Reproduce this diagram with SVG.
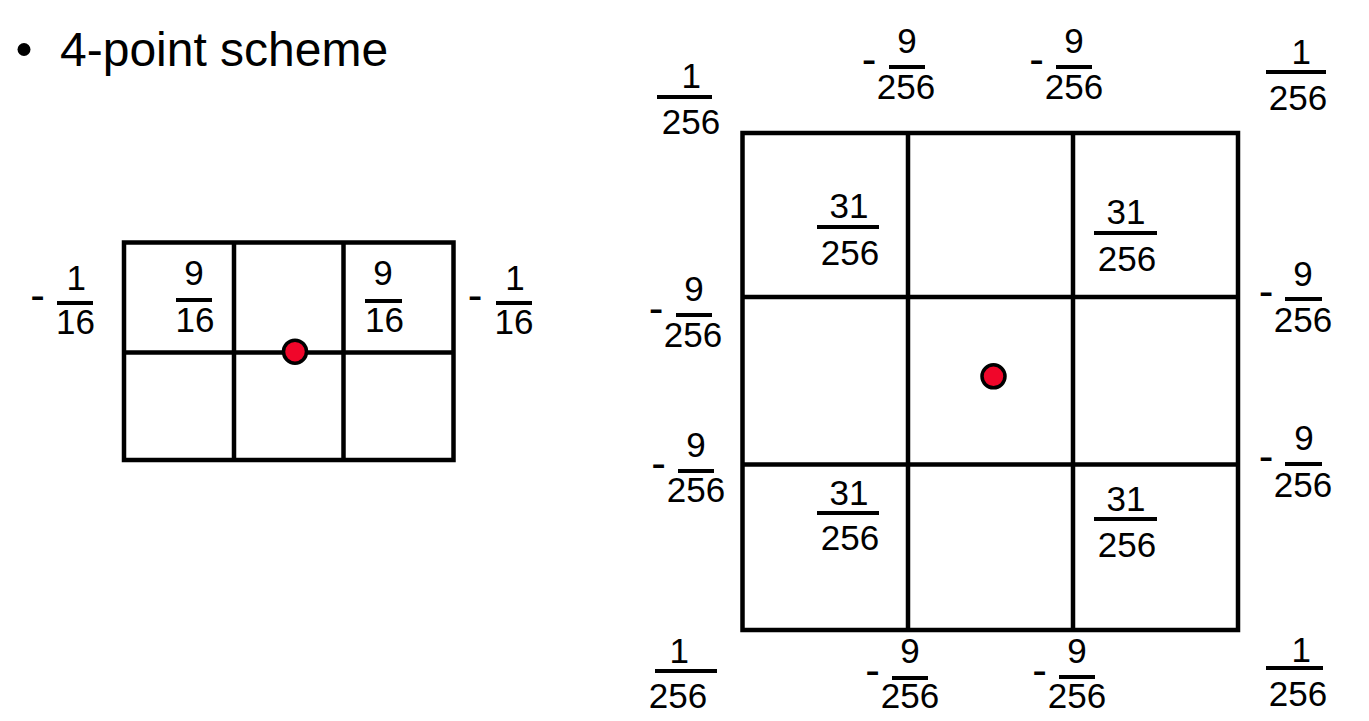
<svg xmlns="http://www.w3.org/2000/svg" width="1369" height="721" viewBox="0 0 1369 721">
<style>
  text { font-family: "Liberation Sans", Arial, sans-serif; fill: #000; }
  .t { font-size: 48px; }
  .n { font-size: 35px; text-anchor: middle; }
  .m { font-size: 44px; text-anchor: middle; }
  .bar { fill: #000; }
  .grid { fill: none; stroke: #000; stroke-width: 4.5; }
  .dot { fill: #f0062a; stroke: #000; stroke-width: 3.5; }
</style>
<rect width="1369" height="721" fill="#fff"/>

<g id="title">
  <circle cx="24" cy="49.5" r="6.5" fill="#000"/>
  <text class="t" x="60" y="66">4-point scheme</text>
</g>

<!-- Left 2x3 grid -->
<g id="grid-left">
  <rect class="grid" x="124" y="242.5" width="329.5" height="217.5"/>
  <line class="grid" x1="234" y1="242.5" x2="234" y2="460"/>
  <line class="grid" x1="343.5" y1="242.5" x2="343.5" y2="460"/>
  <line class="grid" x1="124" y1="352.5" x2="453.5" y2="352.5"/>
  <circle class="dot" cx="295" cy="351.7" r="11.5"/>
</g>

<g id="l-left">
  <text class="m" x="37.5" y="310">-</text>
  <text class="n" x="76.3" y="290">1</text>
  <rect class="bar" x="57" y="301" width="36" height="4"/>
  <text class="n" x="75.5" y="334">16</text>
</g>
<g id="l-c1">
  <text class="n" x="194" y="285">9</text>
  <rect class="bar" x="176" y="298" width="36" height="4"/>
  <text class="n" x="195" y="332">16</text>
</g>
<g id="l-c3">
  <text class="n" x="383" y="285">9</text>
  <rect class="bar" x="365" y="299" width="37" height="4"/>
  <text class="n" x="384.5" y="332">16</text>
</g>
<g id="l-right">
  <text class="m" x="475" y="310">-</text>
  <text class="n" x="515" y="290">1</text>
  <rect class="bar" x="496" y="301" width="36" height="4"/>
  <text class="n" x="514" y="334">16</text>
</g>

<!-- Right 3x3 grid -->
<g id="grid-right">
  <rect class="grid" x="742.5" y="133" width="495.5" height="497"/>
  <line class="grid" x1="908" y1="133" x2="908" y2="630"/>
  <line class="grid" x1="1073" y1="133" x2="1073" y2="630"/>
  <line class="grid" x1="742.5" y1="297" x2="1238" y2="297"/>
  <line class="grid" x1="742.5" y1="464.5" x2="1240" y2="464.5" stroke-width="6"/>
  <circle class="dot" cx="993.5" cy="376.3" r="11.5"/>
</g>

<g id="r-tl">
  <text class="n" x="691.3" y="88">1</text>
  <rect class="bar" x="657" y="95" width="55" height="4"/>
  <text class="n" x="691" y="134">256</text>
</g>
<g id="r-t1">
  <text class="m" x="869" y="74">-</text>
  <text class="n" x="907" y="53">9</text>
  <rect class="bar" x="889" y="65" width="36" height="4"/>
  <text class="n" x="906" y="99">256</text>
</g>
<g id="r-t2">
  <text class="m" x="1036.5" y="74">-</text>
  <text class="n" x="1074" y="53">9</text>
  <rect class="bar" x="1056" y="65" width="36" height="4"/>
  <text class="n" x="1074" y="99">256</text>
</g>
<g id="r-tr">
  <text class="n" x="1301.3" y="64">1</text>
  <rect class="bar" x="1266" y="70" width="60" height="4"/>
  <text class="n" x="1298" y="110">256</text>
</g>
<g id="r-c-tl">
  <text class="n" x="849" y="218">31</text>
  <rect class="bar" x="817" y="225" width="62" height="4"/>
  <text class="n" x="850" y="265">256</text>
</g>
<g id="r-c-tr">
  <text class="n" x="1126" y="224">31</text>
  <rect class="bar" x="1094" y="231" width="63" height="4"/>
  <text class="n" x="1127" y="271">256</text>
</g>
<g id="r-l1">
  <text class="m" x="656" y="323">-</text>
  <text class="n" x="694" y="301">9</text>
  <rect class="bar" x="676" y="313" width="36" height="4"/>
  <text class="n" x="693" y="347">256</text>
</g>
<g id="r-r1">
  <text class="m" x="1266" y="306">-</text>
  <text class="n" x="1303" y="286">9</text>
  <rect class="bar" x="1285" y="297" width="37" height="4"/>
  <text class="n" x="1303" y="332">256</text>
</g>
<g id="r-l2">
  <text class="m" x="658.5" y="478">-</text>
  <text class="n" x="696" y="457">9</text>
  <rect class="bar" x="678" y="469" width="36" height="4"/>
  <text class="n" x="696" y="502">256</text>
</g>
<g id="r-r2">
  <text class="m" x="1266" y="471">-</text>
  <text class="n" x="1304" y="450">9</text>
  <rect class="bar" x="1285" y="462" width="37" height="4"/>
  <text class="n" x="1303" y="497">256</text>
</g>
<g id="r-c-bl">
  <text class="n" x="849" y="505">31</text>
  <rect class="bar" x="817" y="511" width="62" height="4"/>
  <text class="n" x="850" y="550">256</text>
</g>
<g id="r-c-br">
  <text class="n" x="1126" y="511">31</text>
  <rect class="bar" x="1094" y="517" width="63" height="4"/>
  <text class="n" x="1127" y="557">256</text>
</g>
<g id="r-bl">
  <text class="n" x="679.3" y="663">1</text>
  <rect class="bar" x="655" y="669" width="62" height="4"/>
  <text class="n" x="678" y="708">256</text>
</g>
<g id="r-b1">
  <text class="m" x="872.5" y="685">-</text>
  <text class="n" x="910" y="663">9</text>
  <rect class="bar" x="892" y="676" width="36" height="4"/>
  <text class="n" x="910" y="708">256</text>
</g>
<g id="r-b2">
  <text class="m" x="1039.5" y="685">-</text>
  <text class="n" x="1077" y="663">9</text>
  <rect class="bar" x="1059" y="675" width="36" height="4"/>
  <text class="n" x="1077" y="708">256</text>
</g>
<g id="r-br">
  <text class="n" x="1301.3" y="662">1</text>
  <rect class="bar" x="1266" y="666" width="57" height="4"/>
  <text class="n" x="1298" y="706">256</text>
</g>
</svg>
